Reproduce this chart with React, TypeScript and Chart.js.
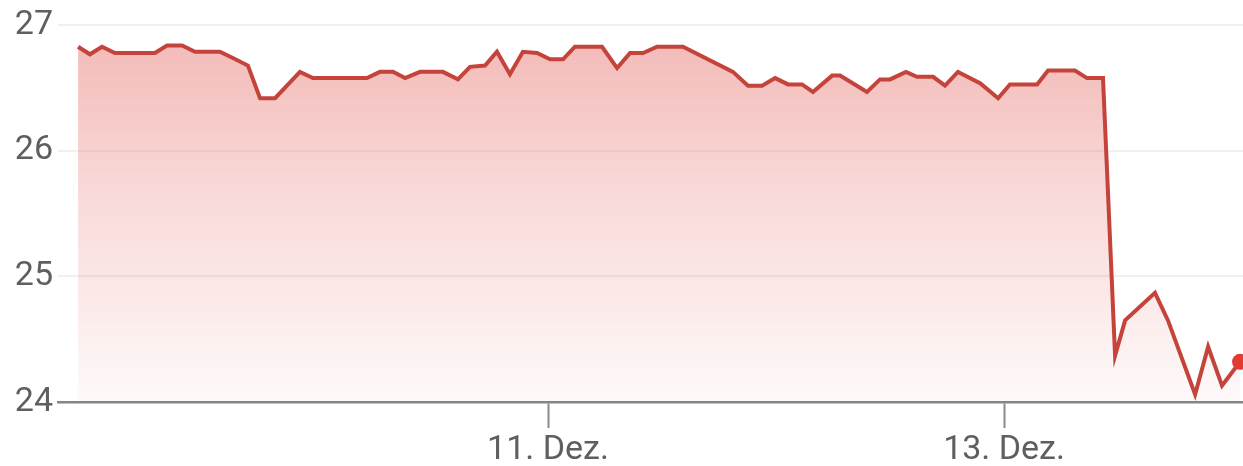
import React, { useEffect, useRef } from "react";
import { Chart, registerables } from "chart.js";

Chart.register(...registerables);

// x positions in days of December (fractional)
const days = [
  8.939, 8.991, 9.044, 9.101, 9.276, 9.329, 9.395, 9.452, 9.561, 9.618,
  9.684, 9.737, 9.803, 9.912, 9.969, 10.206, 10.263, 10.32, 10.373, 10.439,
  10.539, 10.605, 10.658, 10.724, 10.776, 10.833, 10.89, 10.952, 11.009, 11.066,
  11.118, 11.237, 11.303, 11.36, 11.417, 11.478, 11.592, 11.811, 11.877, 11.939,
  11.996, 12.053, 12.114, 12.162, 12.246, 12.281, 12.399, 12.456, 12.5, 12.57,
  12.618, 12.689, 12.741, 12.798, 12.895, 12.974, 13.026, 13.145, 13.193, 13.311,
  13.364, 13.434, 13.487, 13.531, 13.662, 13.719, 13.838, 13.895, 13.956, 14.035,
];

const prices = [
  26.83, 26.77, 26.83, 26.78, 26.78, 26.84, 26.84, 26.79, 26.79, 26.74,
  26.68, 26.42, 26.42, 26.63, 26.58, 26.58, 26.63, 26.63, 26.58, 26.63,
  26.63, 26.57, 26.67, 26.68, 26.79, 26.61, 26.79, 26.78, 26.73, 26.73,
  26.83, 26.83, 26.66, 26.78, 26.78, 26.83, 26.83, 26.63, 26.52, 26.52,
  26.58, 26.53, 26.53, 26.47, 26.6, 26.6, 26.47, 26.57, 26.57, 26.63,
  26.59, 26.59, 26.52, 26.63, 26.54, 26.42, 26.53, 26.53, 26.64, 26.64,
  26.58, 26.58, 24.37, 24.65, 24.87, 24.65, 24.06, 24.44, 24.13, 24.32,
];

const tickDays = [11, 13];
const tickLabels = ["11. Dez.", "13. Dez."];
const yMin = 24;
const yMax = 27;
const xMin = 8.851;
const xMax = 14.048;

export default function App() {
  const canvasRef = useRef<HTMLCanvasElement | null>(null);

  useEffect(() => {
    const canvas = canvasRef.current;
    if (!canvas) return;
    const points = days.map((d, i) => ({ x: d, y: prices[i] }));
    const last = points.length - 1;
    const chart = new Chart(canvas, {
      type: "line",
      data: {
        datasets: [
          {
            data: points,
            borderColor: "#c4443b",
            borderWidth: 4,
            tension: 0,
            fill: "start",
            clip: false,
            backgroundColor: (ctx: any) => {
              const area = ctx.chart.chartArea;
              if (!area) return "rgba(225,80,75,0.3)";
              const g = ctx.chart.ctx.createLinearGradient(0, area.top, 0, area.bottom);
              g.addColorStop(0, "rgba(225,85,80,0.42)");
              g.addColorStop(0.45, "rgba(225,85,80,0.22)");
              g.addColorStop(1, "rgba(225,85,80,0.03)");
              return g;
            },
            pointRadius: (ctx: any) => (ctx.dataIndex === last ? 8 : 0),
            pointBackgroundColor: "#e23b32",
            pointBorderColor: "#e23b32",
            pointBorderWidth: 0,
            pointHoverRadius: 0,
          },
        ],
      },
      options: {
        animation: false,
        responsive: false,
        maintainAspectRatio: false,
        events: [],
        layout: { autoPadding: false, padding: { top: 24, left: 0, right: 0, bottom: 0 } },
        plugins: {
          legend: { display: false },
          tooltip: { enabled: false },
        },
        scales: {
          x: {
            type: "linear",
            min: xMin,
            max: xMax,
            afterFit: (scale: any) => {
              scale.height = 64;
              scale.paddingLeft = 0;
              scale.paddingRight = 0;
            },
            afterBuildTicks: (scale: any) => {
              scale.ticks = tickDays.map((v) => ({ value: v }));
            },
            ticks: {
              autoSkip: false,
              maxRotation: 0,
              padding: 2,
              color: "#5f5f5f",
              font: { family: "Roboto", size: 34 },
              callback: (value: any) => {
                const i = tickDays.indexOf(Number(value));
                return i >= 0 ? tickLabels[i] : "";
              },
            },
            grid: {
              drawOnChartArea: false,
              drawTicks: true,
              tickLength: 26,
              tickColor: "#8a8a8a",
              tickWidth: 2,
              color: "#8a8a8a",
            },
            border: { display: true, color: "#858585", width: 2.5 },
          },
          y: {
            type: "linear",
            min: yMin,
            max: yMax,
            afterFit: (scale: any) => {
              scale.width = 58;
            },
            ticks: {
              stepSize: 1,
              padding: 5,
              color: "#5f5f5f",
              font: { family: "Roboto", size: 34 },
            },
            grid: {
              drawTicks: false,
              color: "rgba(0,0,0,0.06)",
              lineWidth: 2,
            },
            border: { display: false },
          },
        },
      },
    });
    return () => chart.destroy();
  }, []);

  return (
    <div style={{ position: "fixed", left: 0, top: 0, width: 1243, height: 466, background: "#fff" }}>
      <canvas ref={canvasRef} width={1243} height={466} style={{ width: 1243, height: 466, display: "block" }} />
    </div>
  );
}
